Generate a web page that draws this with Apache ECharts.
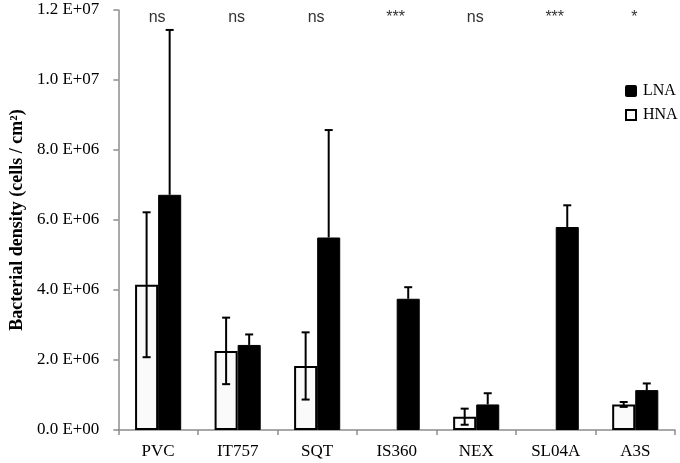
<!DOCTYPE html>
<html><head><meta charset="utf-8">
<script src="https://cdn.jsdelivr.net/npm/echarts@6/dist/echarts.min.js"></script>
<style>html,body{margin:0;padding:0;background:#fff}#c{width:680px;height:463px}</style>
</head><body><div id="c"></div>
<script>
const categories = ['PVC','IT757','SQT','IS360','NEX','SL04A','A3S'];
const hnaValues = [4.15e6, 2.26e6, 1.83e6, 0, 0.38e6, 0, 0.73e6];
const hnaErrors = [2.07e6, 0.95e6, 0.96e6, 0, 0.23e6, 0, 0.07e6];
const lnaValues = [6.72e6, 2.43e6, 5.5e6, 3.75e6, 0.73e6, 5.8e6, 1.14e6];
const lnaErrors = [4.71e6, 0.30e6, 3.07e6, 0.33e6, 0.32e6, 0.62e6, 0.19e6];
const significance = ['ns','ns','ns','***','ns','***','*'];
const yTickLabels = ['0.0 E+00','2.0 E+06','4.0 E+06','6.0 E+06','8.0 E+06','1.0 E+07','1.2 E+07'];

const BAR_FRAC = 0.29;
const chart = echarts.init(document.getElementById('c'));
const noZero = arr => arr.map(v => (v === 0 ? '-' : v));

function errSeries(name, values, errors, side, showLow) {
  return {
    type: 'custom', name: name + ' err', silent: true, z: 5,
    data: values.map((v, i) => [i, v, errors[i]]),
    renderItem: function (params, api) {
      const v = api.value(1), e = api.value(2);
      if (!v) return null;
      const band = api.size([1, 0])[0];
      const bw = band * BAR_FRAC;
      const c = api.coord([api.value(0), v]);
      const x = c[0] + side * bw / 2;
      const top = api.coord([api.value(0), v + e])[1];
      const bot = showLow ? api.coord([api.value(0), v - e])[1] : c[1];
      const cap = 4;
      const st = {stroke: '#000', lineWidth: 2};
      const kids = [
        {type: 'line', shape: {x1: x, y1: top, x2: x, y2: bot}, style: st},
        {type: 'line', shape: {x1: x - cap, y1: top, x2: x + cap, y2: top}, style: st}
      ];
      if (showLow) kids.push({type: 'line', shape: {x1: x - cap, y1: bot, x2: x + cap, y2: bot}, style: st});
      return {type: 'group', children: kids};
    }
  };
}

chart.setOption({
  animation: false,
  grid: {left: 114, right: 5, top: 10, bottom: 33},
  legend: {
    orient: 'vertical', left: 620, top: 78, itemGap: 8, itemWidth: 10, itemHeight: 10,
    data: [{name: 'LNA', icon: 'path://M1,0 L9,0 Q10,0 10,1 L10,9 Q10,10 9,10 L1,10 Q0,10 0,9 L0,1 Q0,0 1,0 Z'}, {name: 'HNA', icon: 'rect'}],
    textStyle: {fontFamily: 'Liberation Serif', fontSize: 16, color: '#000', padding: [0,0,0,2]}
  },
  xAxis: {
    type: 'category', data: categories,
    axisLine: {lineStyle: {color: '#8c8c8c', width: 1.5}},
    axisTick: {show: true, length: 5, lineStyle: {color: '#8c8c8c', width: 1.5}},
    axisLabel: {fontFamily: 'Liberation Serif', fontSize: 17, color: '#000', margin: 13}
  },
  yAxis: {
    type: 'value', min: 0, max: 1.2e7, interval: 2e6,
    name: 'Bacterial density (cells / cm²)', nameLocation: 'middle', nameGap: 86,
    nameTextStyle: {fontFamily: 'Liberation Serif', fontSize: 18, fontWeight: 'bold', color: '#000'},
    axisLine: {show: true, lineStyle: {color: '#8c8c8c', width: 1.5}},
    axisTick: {show: true, length: 5, lineStyle: {color: '#8c8c8c', width: 1.5}},
    splitLine: {show: false},
    axisLabel: {
      fontFamily: 'Liberation Serif', fontSize: 17, color: '#000', margin: 19,
      formatter: v => yTickLabels[Math.round(v / 2e6)]
    }
  },
  series: [
    {
      name: 'HNA', type: 'bar', data: noZero(hnaValues), barWidth: (BAR_FRAC * 100) + '%', barGap: '0%',
      itemStyle: {color: '#fafafa', borderColor: '#000', borderWidth: 2}
    },
    {
      name: 'LNA', type: 'bar', data: noZero(lnaValues), barWidth: (BAR_FRAC * 100) + '%', barGap: '0%',
      itemStyle: {color: '#000', borderColor: '#000', borderWidth: 1}
    },
    errSeries('HNA', hnaValues, hnaErrors, -1, true),
    errSeries('LNA', lnaValues, lnaErrors, 1, false),
    {
      type: 'custom', name: 'sig', silent: true, z: 6,
      data: significance.map((s, i) => [i, 1.178e7]),
      renderItem: function (params, api) {
        const c = api.coord([api.value(0), api.value(1)]);
        return {type: 'text', x: c[0] - 1, y: c[1], style: {
          text: significance[params.dataIndex], fontFamily: 'Liberation Sans', fontSize: 16,
          fill: '#333', align: 'center', verticalAlign: 'middle'}};
      }
    }
  ]
});
</script></body></html>
